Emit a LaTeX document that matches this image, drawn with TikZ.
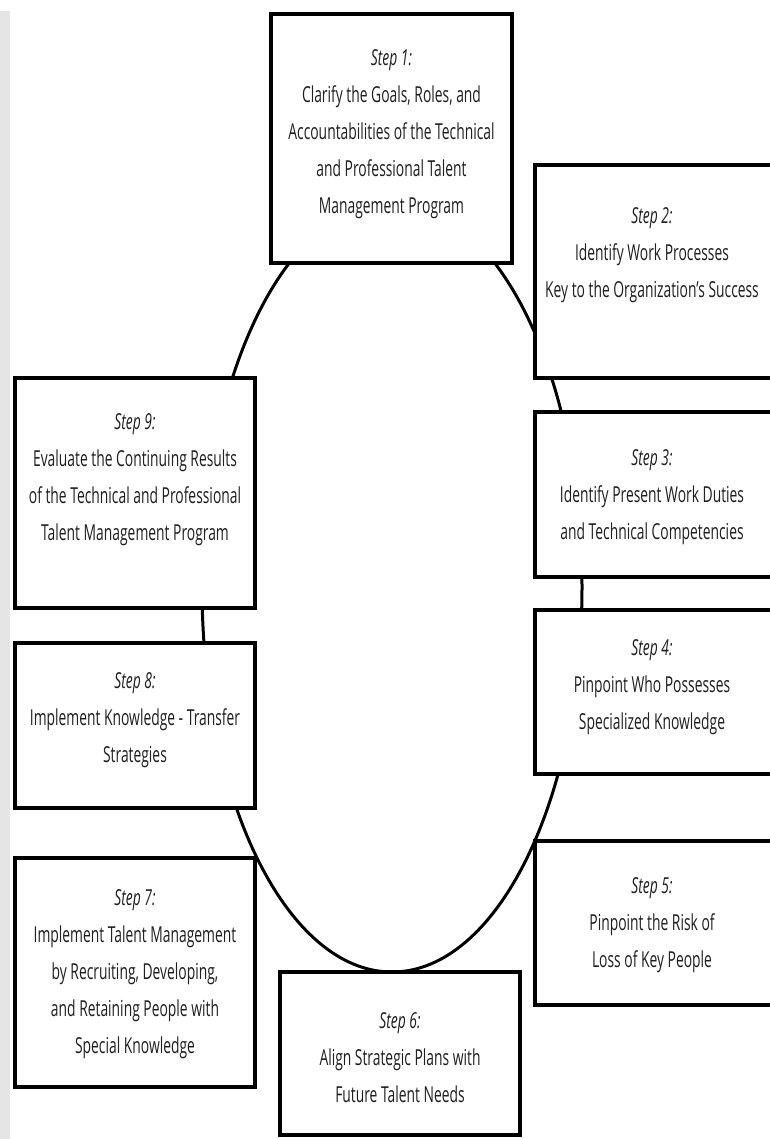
\documentclass[tikz,border=0pt]{standalone}
\usepackage{fontspec}
\setmainfont{Open Sans}[FakeStretch=0.63]
\usetikzlibrary{positioning}
\tikzset{
  stepbox/.style={draw,line width=4pt,fill=white,inner sep=0pt},
  steptext/.style={align=center,text=black!88,font=\fontsize{22}{37}\selectfont},
  cycleline/.style={line width=3pt},
}
\newcommand{\stepno}[1]{\textit{Step #1:}}

\begin{document}
\begin{tikzpicture}[x=1pt,y=-1pt]
\useasboundingbox (0,0) rectangle (770,1139);
\clip (0,0) rectangle (770,1139);
\fill[black!10] (0,11) rectangle (10,1139);
% cycle behind the boxes
\draw[cycleline] (392,587) ellipse [x radius=190, y radius=385];
% boxes
\node[stepbox,minimum width=241pt,minimum height=249pt] (s1) at (391.5,138.5) {};
\node[stepbox,minimum width=240pt,minimum height=213pt] (s2) at (655,271.5) {};
\node[stepbox,minimum width=240pt,minimum height=165pt] (s3) at (655,494.5) {};
\node[stepbox,minimum width=240pt,minimum height=164pt] (s4) at (655,692) {};
\node[stepbox,minimum width=240pt,minimum height=164pt] (s5) at (655,923) {};
\node[stepbox,minimum width=240pt,minimum height=163pt] (s6) at (400,1053.5) {};
\node[stepbox,minimum width=240pt,minimum height=229pt] (s7) at (135,972.5) {};
\node[stepbox,minimum width=240pt,minimum height=165pt] (s8) at (135,725.5) {};
\node[stepbox,minimum width=240pt,minimum height=230pt] (s9) at (135,493) {};
% texts
\node[steptext] (t1) at ([yshift=4pt]s1.center) {\stepno{1}\\Clarify the Goals, Roles, and\\Accountabilities of the Technical\\and Professional Talent\\Management Program};
\node[steptext] (t2) at ([xshift=-3pt,yshift=16pt]s2.center) {\stepno{2}\\Identify Work Processes\\Key to the Organization's Success};
\node[steptext] (t3) at ([xshift=-3pt,yshift=-3pt]s3.center) {\stepno{3}\\Identify Present Work Duties\\and Technical Competencies};
\node[steptext] (t4) at ([xshift=-3pt,yshift=5pt]s4.center) {\stepno{4}\\Pinpoint Who Possesses\\Specialized Knowledge};
\node[steptext] (t5) at ([xshift=-3pt,yshift=-2pt]s5.center) {\stepno{5}\\Pinpoint the Risk of\\Loss of Key People};
\node[steptext] (t6) at ([yshift=-4pt]s6.center) {\stepno{6}\\Align Strategic Plans with\\Future Talent Needs};
\node[steptext] (t7) at ([yshift=-2pt]s7.center) {\stepno{7}\\Implement Talent Management\\by Recruiting, Developing,\\and Retaining People with\\Special Knowledge};
\node[steptext] (t8) at ([yshift=5pt]s8.center) {\stepno{8}\\Implement Knowledge - Transfer\\Strategies};
\node[steptext] (t9) at ([yshift=13pt]s9.center) {\stepno{9}\\Evaluate the Continuing Results\\of the Technical and Professional\\Talent Management Program};
\end{tikzpicture}
\end{document}
